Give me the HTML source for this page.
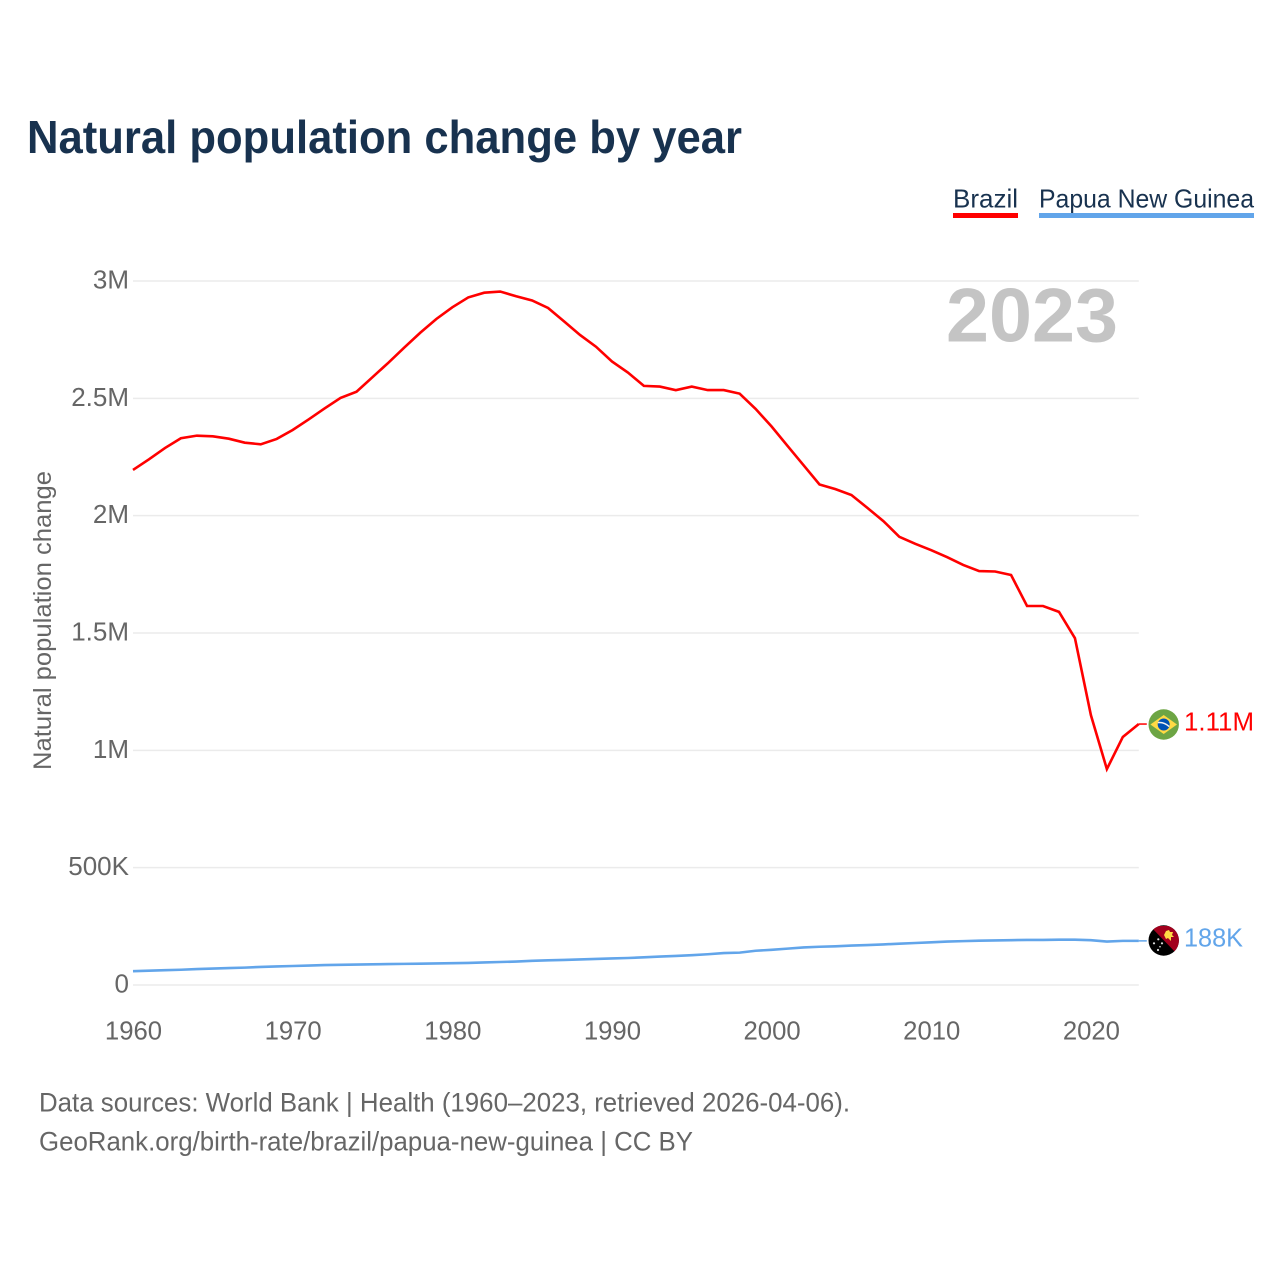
<!DOCTYPE html>
<html lang="en">
<head>
<meta charset="utf-8">
<title>Natural population change by year</title>
<style>
html,body{margin:0;padding:0;background:#fff;}
svg{display:block;font-family:"Liberation Sans",sans-serif;}
</style>
</head>
<body>
<svg id="chart" xmlns="http://www.w3.org/2000/svg" width="1280" height="1280" viewBox="0 0 1280 1280">
  <rect x="0" y="0" width="1280" height="1280" fill="#fff"/>
  <text x="27" y="153" font-size="46" font-weight="700" fill="#18324f" textLength="715" lengthAdjust="spacingAndGlyphs">Natural population change by year</text>

  <g>
    <text x="953" y="207.5" font-size="26" fill="#18324f" textLength="65" lengthAdjust="spacingAndGlyphs">Brazil</text>
    <rect x="953" y="213" width="65" height="5" fill="#ff0000"/>
  </g>
  <g>
    <text x="1039" y="207.5" font-size="26" fill="#18324f" textLength="215" lengthAdjust="spacingAndGlyphs">Papua New Guinea</text>
    <rect x="1039" y="213" width="215" height="5" fill="#62a5ea"/>
  </g>

  <g id="grid"></g>
  <g id="yticks"></g>
  <g id="xticks"></g>

  <text transform="translate(51,770) rotate(-90)" font-size="25" fill="#666" textLength="299" lengthAdjust="spacingAndGlyphs">Natural population change</text>
  <text x="946" y="341.5" font-size="76" font-weight="700" fill="#c4c4c4" textLength="172" lengthAdjust="spacingAndGlyphs">2023</text>

  <g id="series"></g>

  <g>
    <circle cx="1163.7" cy="724.5" r="15.2" fill="#6da544"/>
    <polygon points="1163.7,715 1177,724.5 1163.7,734 1150.4,724.5" fill="#ffda44"/>
    <circle cx="1163.7" cy="724.5" r="6" fill="#0052b4"/>
    <path d="M1158,722.6 Q1164,721.8 1169.2,726.6" stroke="#f0f0f0" stroke-width="1.5" fill="none"/>
  </g>
  <g>
    <clipPath id="png-clip"><circle cx="1163.7" cy="940.5" r="15.2"/></clipPath>
    <g clip-path="url(#png-clip)">
      <rect x="1148" y="925" width="32" height="32" fill="#000"/>
      <polygon points="1150,926 1180,926 1180,957" fill="#a2001d"/>
      <polygon points="1164,935 1166,931 1169,930 1170,932 1173,932 1172,935 1174,937 1171,937 1171,941 1168,938 1166,939" fill="#ffda44"/>
      <circle cx="1158.3" cy="939.3" r="1.1" fill="#ddd"/>
      <circle cx="1154" cy="943.3" r="1.1" fill="#ddd"/>
      <circle cx="1162" cy="943.3" r="1.1" fill="#ddd"/>
      <circle cx="1160" cy="946.7" r="0.8" fill="#ddd"/>
      <circle cx="1158" cy="950" r="1.1" fill="#ddd"/>
    </g>
  </g>

  <text x="1184" y="730.5" font-size="25.5" fill="#ff0000" textLength="70" lengthAdjust="spacingAndGlyphs">1.11M</text>
  <text x="1184" y="946.5" font-size="25.5" fill="#62a5ea" textLength="59" lengthAdjust="spacingAndGlyphs">188K</text>

  <text x="39" y="1111.5" font-size="26.5" fill="#666" textLength="811" lengthAdjust="spacingAndGlyphs">Data sources: World Bank | Health (1960–2023, retrieved 2026-04-06).</text>
  <text x="39" y="1150.5" font-size="26.5" fill="#666" textLength="654" lengthAdjust="spacingAndGlyphs">GeoRank.org/birth-rate/brazil/papua-new-guinea | CC BY</text>
</svg>
<script>
const firstYear = 1960;
const brazilValues = [
  2.195, 2.240, 2.288, 2.330, 2.341, 2.338, 2.328, 2.311, 2.304, 2.327,
  2.365, 2.410, 2.457, 2.502, 2.528, 2.590, 2.652, 2.717, 2.780, 2.838,
  2.888, 2.930, 2.950, 2.955, 2.935, 2.917, 2.885, 2.828, 2.770, 2.720,
  2.657, 2.610, 2.553, 2.550, 2.535, 2.550, 2.535, 2.535, 2.520, 2.455,
  2.380, 2.297, 2.215, 2.133, 2.113, 2.088, 2.033, 1.977, 1.910, 1.880,
  1.853, 1.823, 1.790, 1.764, 1.762, 1.747, 1.615, 1.615, 1.590, 1.478,
  1.150, 0.920, 1.057, 1.112
];
const pngValues = [
  0.059, 0.061, 0.063, 0.065, 0.068, 0.070, 0.072, 0.074, 0.077, 0.079,
  0.081, 0.083, 0.085, 0.086, 0.087, 0.088, 0.089, 0.090, 0.091, 0.092,
  0.093, 0.094, 0.096, 0.098, 0.100, 0.103, 0.105, 0.107, 0.109, 0.111,
  0.113, 0.115, 0.118, 0.121, 0.124, 0.127, 0.131, 0.136, 0.138, 0.146,
  0.150, 0.155, 0.160, 0.163, 0.165, 0.168, 0.170, 0.173, 0.176, 0.179,
  0.182, 0.185, 0.187, 0.189, 0.190, 0.191, 0.192, 0.192, 0.193, 0.193,
  0.191, 0.185, 0.188, 0.188
];
const yTickValues = [0, 0.5, 1, 1.5, 2, 2.5, 3];
const yTickLabels = ["0", "500K", "1M", "1.5M", "2M", "2.5M", "3M"];
const xTickYears = [1960, 1970, 1980, 1990, 2000, 2010, 2020];

function xScale(year) { return 133 + (year - 1960) * 15.965; }
function yScale(v) { return 985 - v * 234.67; }

const NS = "http://www.w3.org/2000/svg";

const grid = document.getElementById("grid");
const yticks = document.getElementById("yticks");
yTickValues.forEach(function (v, i) {
  const line = document.createElementNS(NS, "line");
  
  
  line.setAttribute("x1", xScale(1960));
  line.setAttribute("x2", xScale(2023));
  line.setAttribute("y1", yScale(v));
  line.setAttribute("y2", yScale(v));
  line.setAttribute("stroke", "#ebebeb");
  line.setAttribute("stroke-width", "1.5");
  grid.appendChild(line);

  const t = document.createElementNS(NS, "text");
  
  
  t.setAttribute("x", 129);
  t.setAttribute("y", yScale(v) + 7.5);
  t.setAttribute("text-anchor", "end");
  t.setAttribute("font-size", "26");
  t.setAttribute("fill", "#666");
  t.textContent = yTickLabels[i];
  yticks.appendChild(t);
});

const xticks = document.getElementById("xticks");
xTickYears.forEach(function (yr) {
  const t = document.createElementNS(NS, "text");
  
  
  t.setAttribute("x", xScale(yr) + 0.5);
  t.setAttribute("y", 1039.5);
  t.setAttribute("text-anchor", "middle");
  t.setAttribute("font-size", "25.7");
  t.setAttribute("fill", "#666");
  t.textContent = String(yr);
  xticks.appendChild(t);
});

function linePath(values) {
  return values.map(function (v, i) {
    return (i ? "L" : "M") + xScale(firstYear + i).toFixed(2) + "," + yScale(v).toFixed(2);
  }).join(" ");
}

const series = document.getElementById("series");

const brazilLine = document.createElementNS(NS, "path");


brazilLine.setAttribute("d", linePath(brazilValues));
brazilLine.setAttribute("fill", "none");
brazilLine.setAttribute("stroke", "#ff0000");
brazilLine.setAttribute("stroke-width", "2.6");
series.appendChild(brazilLine);

const pngLine = document.createElementNS(NS, "path");


pngLine.setAttribute("d", linePath(pngValues));
pngLine.setAttribute("fill", "none");
pngLine.setAttribute("stroke", "#62a5ea");
pngLine.setAttribute("stroke-width", "2.6");
series.appendChild(pngLine);

const brazilConnector = document.createElementNS(NS, "line");


brazilConnector.setAttribute("x1", xScale(2023));
brazilConnector.setAttribute("x2", xScale(2023) + 8);
brazilConnector.setAttribute("y1", yScale(brazilValues[63]));
brazilConnector.setAttribute("y2", yScale(brazilValues[63]));
brazilConnector.setAttribute("stroke", "#ff0000");
brazilConnector.setAttribute("stroke-width", "1.5");
series.appendChild(brazilConnector);

const pngConnector = document.createElementNS(NS, "line");


pngConnector.setAttribute("x1", xScale(2023));
pngConnector.setAttribute("x2", xScale(2023) + 8);
pngConnector.setAttribute("y1", yScale(pngValues[63]));
pngConnector.setAttribute("y2", yScale(pngValues[63]));
pngConnector.setAttribute("stroke", "#62a5ea");
pngConnector.setAttribute("stroke-width", "1.5");
series.appendChild(pngConnector);
</script>
</body>
</html>
